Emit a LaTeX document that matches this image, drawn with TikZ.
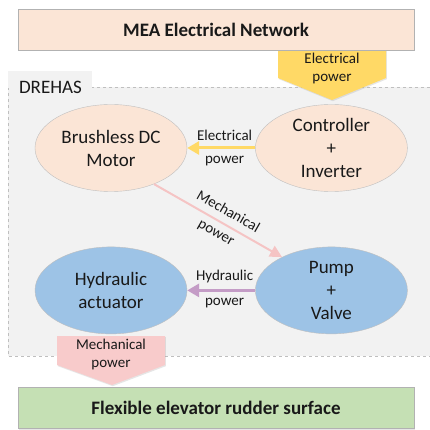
\documentclass[tikz,border=0pt]{standalone}
\usepackage{fontspec}
\setmainfont{Carlito}
\usetikzlibrary{arrows.meta,positioning,shapes.geometric,shadows}
\definecolor{peach}{HTML}{FBE5D6}
\definecolor{skyb}{HTML}{9DC3E6}
\definecolor{gold}{HTML}{FFD966}
\definecolor{rose}{HTML}{F8CBCB}
\definecolor{roseline}{HTML}{F5C4C4}
\definecolor{mauve}{HTML}{C49CC6}
\definecolor{leaf}{HTML}{C5E0B4}
\definecolor{panel}{HTML}{F2F2F2}
\definecolor{edge}{HTML}{BFBFBF}

\begin{document}
\begin{tikzpicture}[x=1pt,y=-1pt,>=Latex,node distance=68pt,every node/.style={text=black!90,font=\fontsize{19}{23}\selectfont}]
\tikzstyle{bar}=[draw=black!30,minimum width=396pt,minimum height=41pt,inner sep=0pt,drop shadow={shadow xshift=.8pt,shadow yshift=-1.2pt,opacity=.2}]
\tikzstyle{ell}=[ellipse,draw=edge,minimum width=152pt,minimum height=87pt,inner sep=0pt,align=center]
\tikzstyle{lbl}=[font=\fontsize{15}{18}\selectfont,align=center]
\tikzstyle{flow}=[line width=3pt,-{Triangle[length=12pt,width=13pt]}]
\useasboundingbox (0,0) rectangle (430,430);
% DREHAS panel
\draw[edge,dashed,fill=panel] (8,87) rectangle (436,356);
\fill[panel] (8,71) rectangle (92,88);
\node[anchor=west] (drehas) at (15.5,87) {DREHAS};
% supply from the network
\fill[gold,drop shadow={shadow xshift=.8pt,shadow yshift=-1.2pt,opacity=.2}] (278,45) -- (386,45) -- (386,78) -- (332,100) -- (278,78) -- cycle;
\node[lbl] (feed) at (332,69) {Electrical\\power};
\node[bar,fill=peach,font=\bfseries\fontsize{19}{23}\selectfont] (mea) at (216,29.5) {MEA Electrical Network};
% units
\node[ell,fill=peach] (motor) at (111,148) {Brushless DC\\Motor};
\node[ell,fill=peach,right=of motor] (ctrl) {Controller\\+\\Inverter};
\node[ell,fill=skyb,below=55pt of motor] (act) {Hydraulic\\actuator};
\node[ell,fill=skyb,right=of act] (pump) {Pump\\+\\Valve};
\draw[flow,gold] (ctrl) -- (motor) node[lbl,pos=.45,above=3pt]{Electrical} node[lbl,pos=.45,below=3pt]{power};
\draw[roseline,line width=2pt,-{Triangle[length=12pt,width=12pt]}] (motor.-40) -- (pump.146) node[lbl,pos=.53,above=4pt,sloped]{Mechanical} node[lbl,pos=.53,below=4pt,sloped]{power};
\draw[flow,mauve] (pump) -- (act) node[lbl,pos=.45,above=3pt]{Hydraulic} node[lbl,pos=.45,below=3pt]{power};
% output to the surface
\fill[rose,drop shadow={shadow xshift=.8pt,shadow yshift=-1.2pt,opacity=.2}] (57,336) -- (165,336) -- (165,365) -- (112,385) -- (57,365) -- cycle;
\node[lbl] (out) at (111,354) {Mechanical\\power};
\node[bar,fill=leaf,font=\bfseries\fontsize{19}{23}\selectfont] (surf) at (216,408) {Flexible elevator rudder surface};
\end{tikzpicture}
\end{document}
